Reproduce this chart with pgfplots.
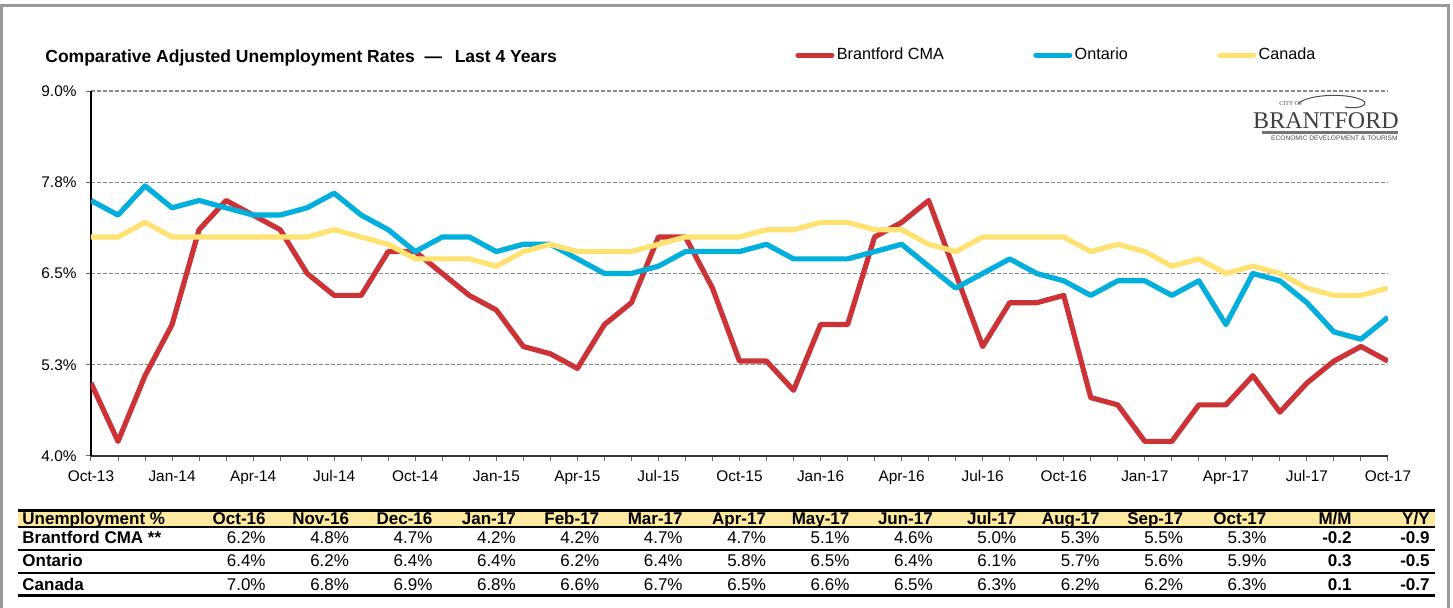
\documentclass[border=0pt]{standalone}
\usepackage{pgfplots}
\usepackage{pgfplotstable}
\pgfplotsset{compat=1.18}
\usepackage{fontspec}
\setmainfont{Liberation Sans}
\newfontfamily\logofont{Liberation Serif}
\definecolor{cRed}{HTML}{CC3336}
\definecolor{cBlue}{HTML}{00AFDB}
\definecolor{cYel}{HTML}{FFE271}
\definecolor{hdr}{HTML}{FDE9A0}
\definecolor{framec}{HTML}{999999}
\definecolor{gridc}{HTML}{888888}

\pgfplotstableread{
i brant ont can
0 5.0 7.5 7.0
1 4.2 7.3 7.0
2 5.1 7.7 7.2
3 5.8 7.4 7.0
4 7.1 7.5 7.0
5 7.5 7.4 7.0
6 7.3 7.3 7.0
7 7.1 7.3 7.0
8 6.5 7.4 7.0
9 6.2 7.6 7.1
10 6.2 7.3 7.0
11 6.8 7.1 6.9
12 6.8 6.8 6.7
13 6.5 7.0 6.7
14 6.2 7.0 6.7
15 6.0 6.8 6.6
16 5.5 6.9 6.8
17 5.4 6.9 6.9
18 5.2 6.7 6.8
19 5.8 6.5 6.8
20 6.1 6.5 6.8
21 7.0 6.6 6.9
22 7.0 6.8 7.0
23 6.3 6.8 7.0
24 5.3 6.8 7.0
25 5.3 6.9 7.1
26 4.9 6.7 7.1
27 5.8 6.7 7.2
28 5.8 6.7 7.2
29 7.0 6.8 7.1
30 7.2 6.9 7.1
31 7.5 6.6 6.9
32 6.5 6.3 6.8
33 5.5 6.5 7.0
34 6.1 6.7 7.0
35 6.1 6.5 7.0
36 6.2 6.4 7.0
37 4.8 6.2 6.8
38 4.7 6.4 6.9
39 4.2 6.4 6.8
40 4.2 6.2 6.6
41 4.7 6.4 6.7
42 4.7 5.8 6.5
43 5.1 6.5 6.6
44 4.6 6.4 6.5
45 5.0 6.1 6.3
46 5.3 5.7 6.2
47 5.5 5.6 6.2
48 5.3 5.9 6.3
}\ratedata

\begin{document}
\begin{tikzpicture}
\path[use as bounding box] (0,0) rectangle (726.5pt,-304pt);
\begin{axis}[
  at={(45.5pt,-228pt)}, anchor=south west,
  scale only axis, width=648.5pt, height=182.5pt,
  xmin=0, xmax=48, ymin=4, ymax=9,
  axis x line=bottom, axis y line=left,
  axis line style={-},
  x axis line style={black!80, line width=0.6pt},
  y axis line style={black, line width=0.6pt},
  xtick={0,3,...,48},
  xticklabels={Oct-13,Jan-14,Apr-14,Jul-14,Oct-14,Jan-15,Apr-15,Jul-15,Oct-15,Jan-16,Apr-16,Jul-16,Oct-16,Jan-17,Apr-17,Jul-17,Oct-17},
  minor xtick={0,...,48},
  ytick={4,5.25,6.5,7.75,9},
  yticklabels={4.0\%,5.3\%,6.5\%,7.8\%,9.0\%},
  ymajorgrids,
  grid style={gridc, dash pattern=on 2pt off 1pt, line width=0.6pt},
  tick align=outside, major tick length=2.5pt, minor tick length=2.5pt,
  tick style={black!60, line width=0.5pt},
  ticklabel style={font=\fontsize{7.7}{9}\selectfont},
  xticklabel style={text height=5.6pt, text depth=1.6pt, yshift=-1.2pt},
  yticklabel style={xshift=-1.2pt},
  legend columns=3,
  legend style={at={(0.5428,1.0986)}, anchor=west, draw=none, fill=none,
    inner sep=0pt, font=\fontsize{8.1}{9.7}\selectfont,
    nodes={inner xsep=1.2pt},
    /tikz/every even column/.append style={column sep=43.5pt}},
  legend image code/.code={\draw[#1, line width=2.5pt, line cap=round] (0pt,0pt) -- (17pt,0pt);},
]
\addplot[cRed, line width=2.6pt, line join=round, mark=none] table[x=i, y=brant] {\ratedata};
\addlegendentry{Brantford CMA}
\addplot[cBlue, line width=2.6pt, line join=round, mark=none] table[x=i, y=ont] {\ratedata};
\addlegendentry{Ontario}
\addplot[cYel, line width=2.6pt, line join=round, mark=none] table[x=i, y=can] {\ratedata};
\addlegendentry{Canada}
\end{axis}

\begin{scope}[x=0.5pt, y=-0.5pt]
% frame
\draw[framec, line width=1.5pt] (1,610) -- (1,6) -- (1448,6) -- (1448,610);
% title
\node[anchor=base west, inner sep=0pt, font=\bfseries\fontsize{8.75}{10}\selectfont] at (45,63)
  {Comparative Adjusted Unemployment Rates \ ---\ \, Last 4 Years};
% logo
\node[anchor=base east, inner sep=0pt, text=black!75, font=\logofont\fontsize{12}{12}\selectfont] at (1399,129) {BRANTFORD};
\fill[black!55] (1262,131) rectangle (1398,134);
\node[anchor=base east, inner sep=0pt, text=black!70, font=\fontsize{3.3}{4}\selectfont] at (1398,141) {ECONOMIC DEVELOPMENT \& TOURISM};
\node[anchor=base west, inner sep=0pt, text=black!70, font=\logofont\fontsize{3}{3}\selectfont] at (1279,106) {CITY OF};
\draw[black!70, line width=0.5pt] (1298,104) .. controls (1305,95) and (1345,92) .. (1362,100) .. controls (1370,104) and (1360,110) .. (1345,107);
% table
\fill[hdr] (18,511) rectangle (1435,527);
\begin{scope}
\clip (18,509) rectangle (1435,527);
\node[anchor=base west, inner sep=0pt, font=\bfseries\fontsize{8.5}{10}\selectfont] at (22,525) {Unemployment \%};
\foreach \lab [count=\k from 0] in {Oct-16,Nov-16,Dec-16,Jan-17,Feb-17,Mar-17,Apr-17,May-17,Jun-17,Jul-17,Aug-17,Sep-17,Oct-17}
  \node[anchor=base east, inner sep=0pt, font=\bfseries\fontsize{8.5}{10}\selectfont] at ({266+83.4*\k},525) {\lab};
\node[anchor=base east, inner sep=0pt, font=\bfseries\fontsize{8.5}{10}\selectfont] at (1352,525) {M/M};
\node[anchor=base east, inner sep=0pt, font=\bfseries\fontsize{8.5}{10}\selectfont] at (1430,525) {Y/Y};
\end{scope}
\draw[line width=1.5pt] (18,511) -- (1435,511);
\draw[line width=1.2pt] (18,527) -- (1435,527);
\draw[line width=0.7pt] (18,550) -- (1435,550);
\draw[line width=0.7pt] (18,573) -- (1435,573);
\draw[line width=1.5pt] (18,596) -- (1435,596);
% row labels
\node[anchor=base west, inner sep=0pt, font=\bfseries\fontsize{8.5}{10}\selectfont] at (22,543.5) {Brantford CMA **};
\node[anchor=base west, inner sep=0pt, font=\bfseries\fontsize{8.5}{10}\selectfont] at (22,566.5) {Ontario};
\node[anchor=base west, inner sep=0pt, font=\bfseries\fontsize{8.5}{10}\selectfont] at (22,590.5) {Canada};
% values
\foreach \v [count=\k from 0] in {6.2,4.8,4.7,4.2,4.2,4.7,4.7,5.1,4.6,5.0,5.3,5.5,5.3}
  \node[anchor=base east, inner sep=0pt, font=\fontsize{8.5}{10}\selectfont] at ({266+83.4*\k},543.5) {\v\%};
\foreach \v [count=\k from 0] in {6.4,6.2,6.4,6.4,6.2,6.4,5.8,6.5,6.4,6.1,5.7,5.6,5.9}
  \node[anchor=base east, inner sep=0pt, font=\fontsize{8.5}{10}\selectfont] at ({266+83.4*\k},566.5) {\v\%};
\foreach \v [count=\k from 0] in {7.0,6.8,6.9,6.8,6.6,6.7,6.5,6.6,6.5,6.3,6.2,6.2,6.3}
  \node[anchor=base east, inner sep=0pt, font=\fontsize{8.5}{10}\selectfont] at ({266+83.4*\k},590.5) {\v\%};
\node[anchor=base east, inner sep=0pt, font=\bfseries\fontsize{8.5}{10}\selectfont] at (1352,543.5) {-0.2};
\node[anchor=base east, inner sep=0pt, font=\bfseries\fontsize{8.5}{10}\selectfont] at (1430,543.5) {-0.9};
\node[anchor=base east, inner sep=0pt, font=\bfseries\fontsize{8.5}{10}\selectfont] at (1352,566.5) {0.3};
\node[anchor=base east, inner sep=0pt, font=\bfseries\fontsize{8.5}{10}\selectfont] at (1430,566.5) {-0.5};
\node[anchor=base east, inner sep=0pt, font=\bfseries\fontsize{8.5}{10}\selectfont] at (1352,590.5) {0.1};
\node[anchor=base east, inner sep=0pt, font=\bfseries\fontsize{8.5}{10}\selectfont] at (1430,590.5) {-0.7};
\end{scope}
\end{tikzpicture}
\end{document}
